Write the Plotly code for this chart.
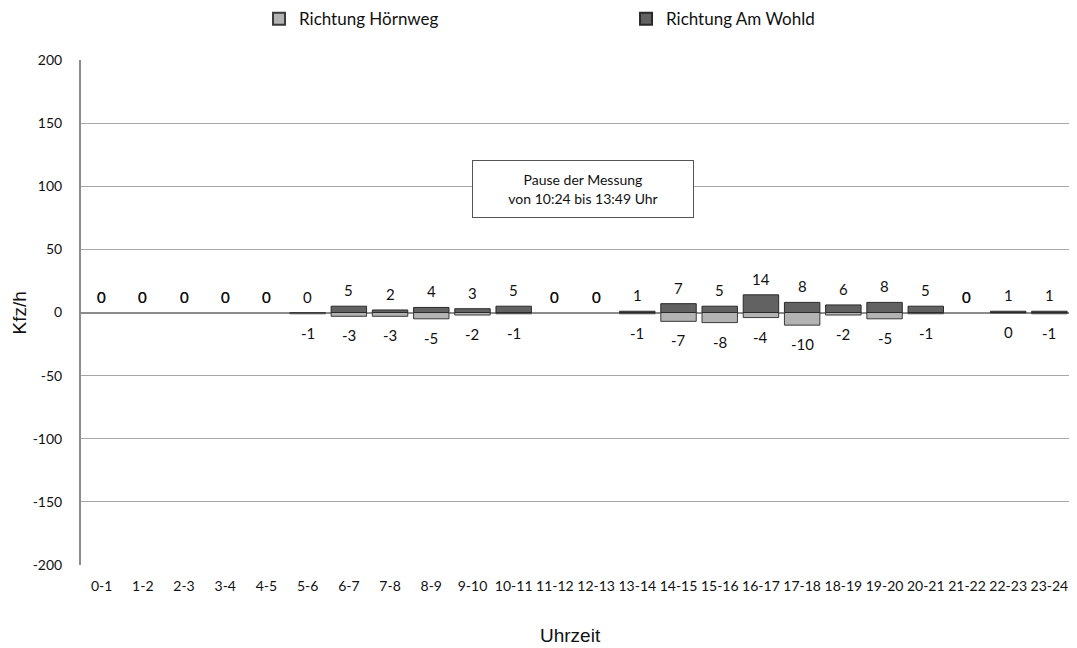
import plotly.graph_objects as go

hours = ["0-1", "1-2", "2-3", "3-4", "4-5", "5-6", "6-7", "7-8", "8-9", "9-10", "10-11", "11-12",
         "12-13", "13-14", "14-15", "15-16", "16-17", "17-18", "18-19", "19-20", "20-21", "21-22",
         "22-23", "23-24"]
am_wohld = [0, 0, 0, 0, 0, 0, 5, 2, 4, 3, 5, 0, 0, 1, 7, 5, 14, 8, 6, 8, 5, 0, 1, 1]
hoernweg = [0, 0, 0, 0, 0, -1, -3, -3, -5, -2, -1, 0, 0, -1, -7, -8, -4, -10, -2, -5, -1, 0, -0.3, -1]
y_ticks = [-200, -150, -100, -50, 0, 50, 100, 150, 200]
y_tick_text = ["-200", "-150", "-100", "-50", "0", "50", "100", "150", "200"]

FONT = "Lato, Open Sans, sans-serif"
TITLE_FONT = "Liberation Sans, Arial, sans-serif"

fig = go.Figure()
fig.add_trace(go.Bar(
    x=hours, y=hoernweg, name="Richtung Hörnweg",
    marker=dict(color="#b3b3b3",
                line=dict(color="#3a3a3a", width=[0 if v == 0 else 1 for v in hoernweg])),
))
fig.add_trace(go.Bar(
    x=hours, y=am_wohld, name="Richtung Am Wohld",
    marker=dict(color="#626262",
                line=dict(color="#2a2a2a", width=[0 if v == 0 else 1 for v in am_wohld])),
))

annotations = []
# data labels
for h, v in zip(hours, am_wohld):
    annotations.append(dict(x=h, y=v, xref="x", yref="y", text=str(int(round(v))), showarrow=False,
                            yanchor="middle", yshift=16,
                            font=dict(family=FONT, size=15, color="#111111")))
for h, v in zip(hours, hoernweg):
    annotations.append(dict(x=h, y=v, xref="x", yref="y", text=str(int(round(v))), showarrow=False,
                            yanchor="middle", yshift=(-19 if v < 0 else 16),
                            font=dict(family=FONT, size=15, color="#111111")))

annotations += [
    dict(text="Pause der Messung<br>von 10:24 bis 13:49 Uhr", xref="paper", x=0.508, yref="y", y=98,
         showarrow=False, bgcolor="white", bordercolor="#555555", borderwidth=1,
         width=214, height=50, borderpad=3, font=dict(family=FONT, size=14, color="#111111")),
    dict(text="Kfz/h", xref="paper", x=-0.0617, xanchor="center", yref="paper", y=0.5, yanchor="middle",
         textangle=-90, showarrow=False,
         font=dict(family=TITLE_FONT, size=19, color="#111111")),
    dict(text="Uhrzeit", xref="paper", x=0.495, xanchor="center", yref="paper", y=-0.139, yanchor="middle",
         showarrow=False,
         font=dict(family=TITLE_FONT, size=19, color="#111111")),
]

fig.update_layout(
    width=1069, height=640,
    margin=dict(l=73, r=7, t=52, b=83, autoexpand=False),
    paper_bgcolor="white", plot_bgcolor="white",
    barmode="relative", bargap=0.14,
    font=dict(family=FONT, size=13, color="#111111"),
    legend=dict(
        orientation="h", x=0.180, xanchor="left", y=1.081, yanchor="middle",
        font=dict(family=FONT, size=17, color="#111111"),
        entrywidth=322, itemsizing="constant", bgcolor="rgba(0,0,0,0)",
    ),
    xaxis=dict(
        type="category", showgrid=False, zeroline=False, showline=False,
        tickfont=dict(family=FONT, size=14), ticks="", ticklabelstandoff=11,
    ),
    yaxis=dict(
        range=[-200, 200], tickvals=y_ticks, ticktext=y_tick_text,
        showgrid=True, gridcolor="#a6a6a6", gridwidth=1.2,
        zeroline=True, zerolinecolor="#8c8c8c", zerolinewidth=1.5,
        showline=True, linecolor="#8c8c8c", linewidth=2,
        tickfont=dict(family=FONT, size=14), ticks="", ticklabelstandoff=14,
    ),
    annotations=annotations,
)

fig.write_html("out.html")
